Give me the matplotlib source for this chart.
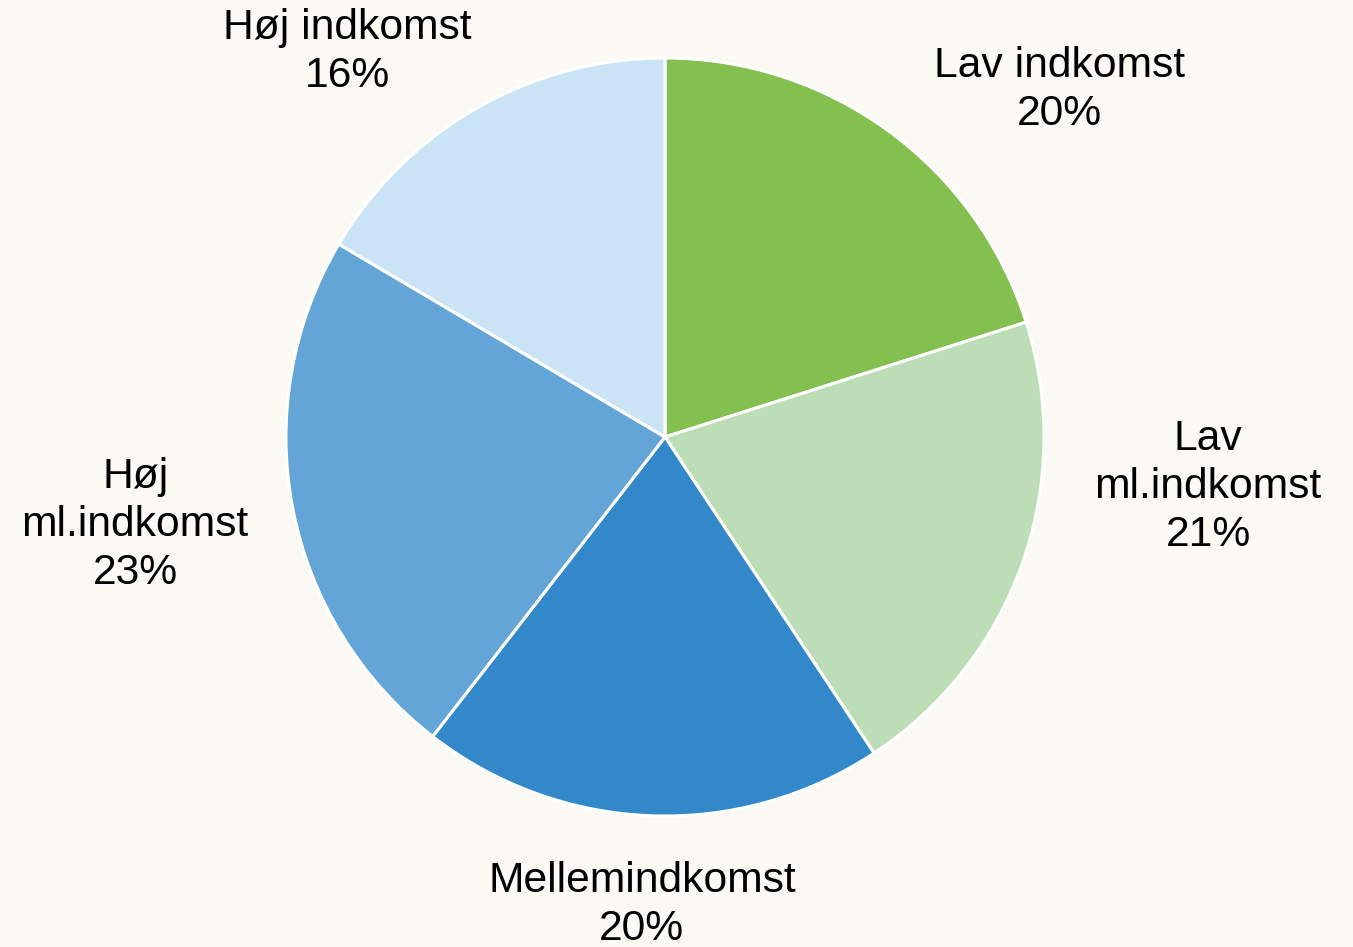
import matplotlib
matplotlib.use("Agg")
import matplotlib.pyplot as plt

categories = ["Lav indkomst", "Lav\nml.indkomst", "Mellemindkomst", "Høj\nml.indkomst", "Høj indkomst"]
values = [20.1, 20.6, 19.8, 23.0, 16.5]
colors = ["#84C050", "#BCDDB6", "#3288C8", "#63A5D6", "#CBE4F5"]
label_pos = [(1.042, 0.916), (1.433, -0.132), (-0.061, -1.235), (-1.398, -0.232), (-0.839, 1.016)]

plt.rcParams['font.family'] = ['Liberation Sans', 'DejaVu Sans']
bg = "#FAF9F4"
fig = plt.figure(figsize=(13.53, 9.47), dpi=100, facecolor=bg)
ax = fig.add_axes([0, 0, 1, 1])
ax.set_facecolor(bg)
ax.pie(values, colors=colors, startangle=90, counterclock=False, radius=1.0,
       wedgeprops=dict(edgecolor="white", linewidth=2.2))
total = sum(values)
for cat, v, (x, y) in zip(categories, values, label_pos):
    ax.text(x, y, f"{cat}\n{round(v / total * 100):.0f}%", ha="center", va="center",
            fontsize=30.7, color="black", linespacing=1.265)
ax.set_xlim(-1.7546, 1.8153)
ax.set_ylim(-1.3456, 1.1530)
ax.set_aspect("auto")
ax.axis("off")
fig.savefig("out.png", dpi=100, facecolor=bg)
